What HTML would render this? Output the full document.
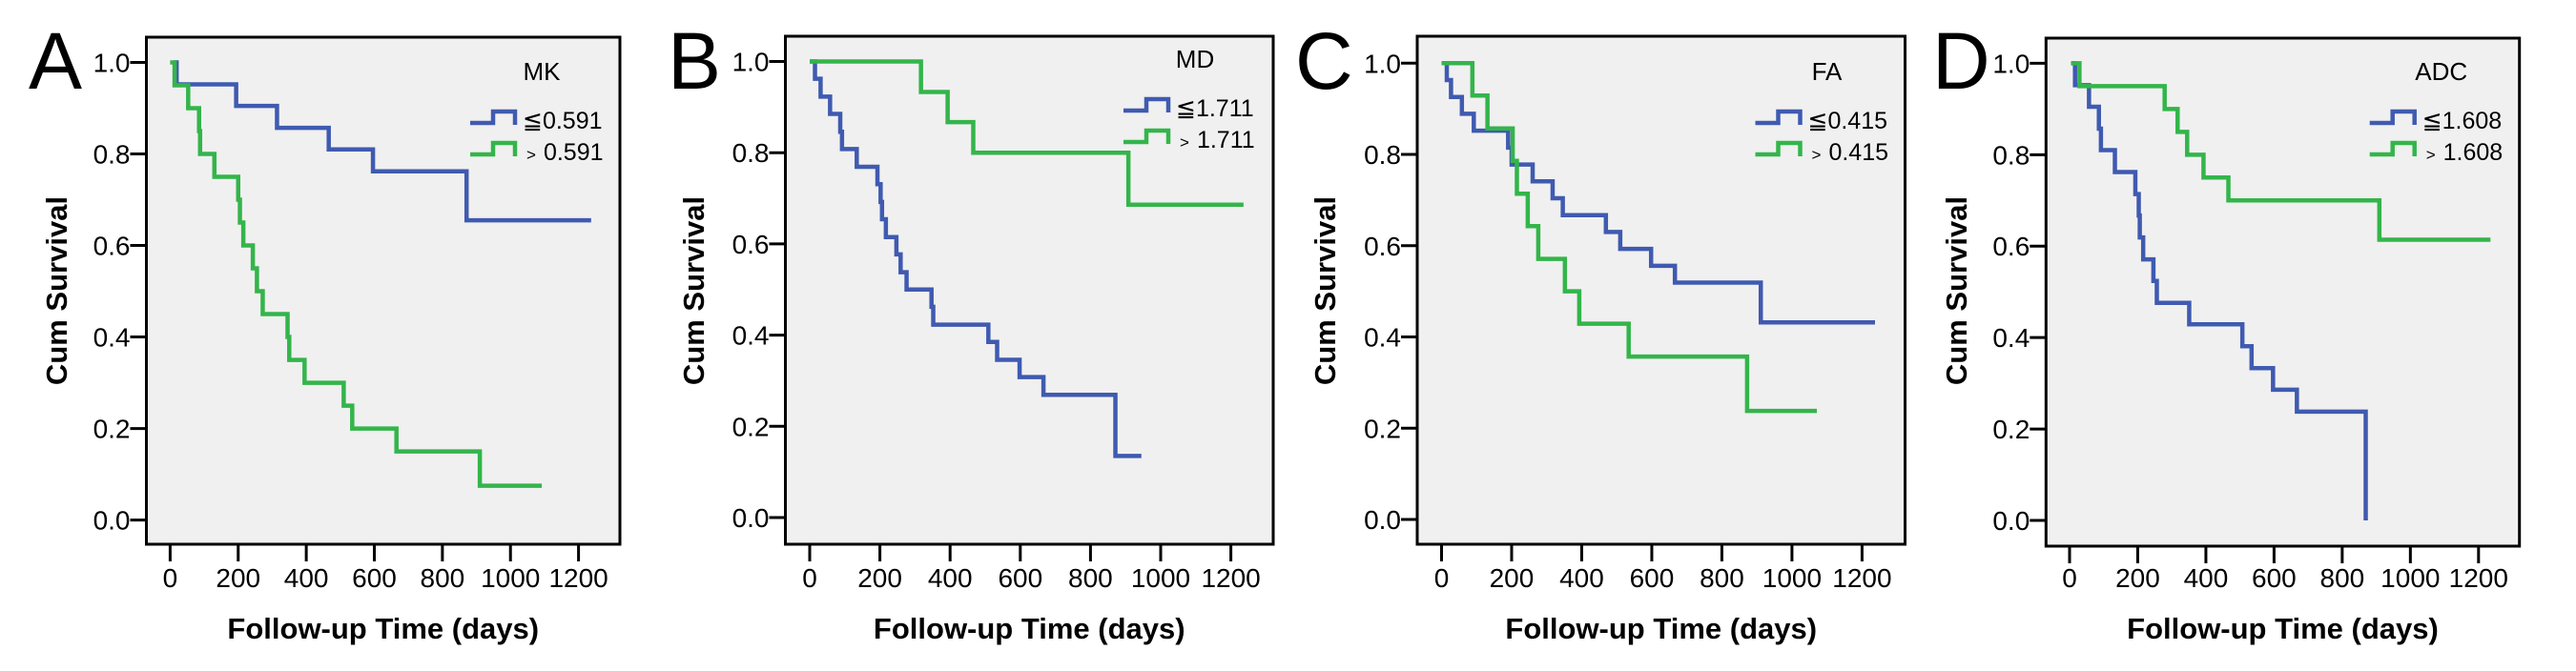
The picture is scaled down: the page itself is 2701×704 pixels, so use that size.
<!DOCTYPE html>
<html><head><meta charset="utf-8"><style>
html,body{margin:0;padding:0;background:#fff}
svg{display:block}
text{font-family:"Liberation Sans","DejaVu Sans",sans-serif;fill:#000}
</style></head><body>
<svg id="fig" width="2701" height="704" viewBox="0 0 2701 704" xmlns="http://www.w3.org/2000/svg"></svg>
<script>
// ---- data (time in days, cumulative survival) ----
const xTicks = [0,200,400,600,800,1000,1200];
const yTicks = [0.0,0.2,0.4,0.6,0.8,1.0];
const yTickLabels = ["0.0","0.2","0.4","0.6","0.8","1.0"];

const mkLowT = [10,19,194,314,466,596,871];
const mkLowS = [1,0.952,0.905,0.857,0.810,0.762,0.655];
const mkLowEnd = 1237;
const mkHighT = [0,13,53,85,88,130,200,205,215,243,255,272,345,350,395,510,535,665,910];
const mkHighS = [1,0.95,0.90,0.85,0.80,0.75,0.70,0.65,0.60,0.55,0.50,0.45,0.40,0.35,0.30,0.25,0.20,0.15,0.075];
const mkHighEnd = 1092;

const mdLowT = [0,15,31,58,87,92,134,193,202,206,217,247,259,276,347,352,509,534,598,666,871];
const mdLowS = [1,0.962,0.923,0.885,0.846,0.808,0.769,0.731,0.692,0.654,0.615,0.577,0.538,0.50,0.462,0.423,0.385,0.346,0.308,0.269,0.135];
const mdLowEnd = 945;
const mdHighT = [0,317,393,466,908];
const mdHighS = [1,0.933,0.867,0.80,0.686];
const mdHighEnd = 1236;

const faLowT = [0,15,27,58,92,190,200,260,317,346,469,510,598,666,911];
const faLowS = [1,0.963,0.926,0.889,0.852,0.815,0.778,0.741,0.704,0.667,0.630,0.593,0.556,0.519,0.432];
const faLowEnd = 1237;
const faHighT = [0,88,131,203,215,246,276,352,393,534,872];
const faHighS = [1,0.929,0.857,0.786,0.714,0.643,0.571,0.50,0.429,0.357,0.238];
const faHighEnd = 1071;

const adcLowT = [6,16,57,86,92,133,193,203,206,216,246,256,351,507,534,597,667,869];
const adcLowS = [1,0.952,0.905,0.857,0.810,0.762,0.714,0.667,0.619,0.571,0.524,0.476,0.429,0.381,0.333,0.286,0.238,0];
const adcLowEnd = 869;
const adcHighT = [4,29,279,317,345,393,466,909];
const adcHighS = [1,0.95,0.90,0.85,0.80,0.75,0.70,0.614];
const adcHighEnd = 1235;

const panelLetters = ["A","B","C","D"];
const panelTitles = ["MK","MD","FA","ADC"];
const cutLabels = ["0.591","1.711","0.415","1.608"];

const BLUE = "#3f5ab0", GREEN = "#33b54a";
const NS = "http://www.w3.org/2000/svg";
const svg = document.getElementById("fig");

// layout per panel
const layouts = [
  {L:153.5,T:39,R:650,B:571,x0:178.4,x1:606.6,y1:65.5,y0:545.6,letterX:30,yTitleX:59,legDy:0},
  {L:823.5,T:38,R:1335,B:571,x0:849,x1:1290.6,y1:64.5,y0:543,letterX:700,yTitleX:727,legDy:-13},
  {L:1486,T:38,R:1997.5,B:571,x0:1511.5,x1:1952.4,y1:66.3,y0:545,letterX:1358,yTitleX:1389,legDy:0},
  {L:2145.3,T:40,R:2641.7,B:573,x0:2170,x1:2598.8,y1:66.4,y0:546,letterX:2026,yTitleX:2051,legDy:0}
];
const series = [
  [[mkLowT,mkLowS,mkLowEnd],[mkHighT,mkHighS,mkHighEnd]],
  [[mdLowT,mdLowS,mdLowEnd],[mdHighT,mdHighS,mdHighEnd]],
  [[faLowT,faLowS,faLowEnd],[faHighT,faHighS,faHighEnd]],
  [[adcLowT,adcLowS,adcLowEnd],[adcHighT,adcHighS,adcHighEnd]]
];

function mk(tag, attrs, parent){
  const e = document.createElementNS(NS, tag);
  for (const k in attrs) e.setAttribute(k, attrs[k]);
  (parent||svg).appendChild(e);
  return e;
}

layouts.forEach((lay, p) => {
  const g = mk("g", {});
  
  
  const xs = t => lay.x0 + (t/1200)*(lay.x1-lay.x0);
  const ys = s => lay.y0 + s*(lay.y1-lay.y0);

  const bg = mk("rect", {x:lay.L, y:lay.T, width:lay.R-lay.L, height:lay.B-lay.T, fill:"#f0f0f0", stroke:"#000", "stroke-width":3}, g);
  
  

  // y ticks
  yTicks.forEach((v,i) => {
    const y = ys(v);
    const tk = mk("line", {x1:lay.L-17, x2:lay.L, y1:y, y2:y, stroke:"#000", "stroke-width":3}, g);
    
    
    const lb = mk("text", {x:lay.L-17, y:y+10, "font-size":28, "text-anchor":"end"}, g);
    lb.textContent = yTickLabels[i];
    
    
  });
  // x ticks
  xTicks.forEach(v => {
    const x = xs(v);
    const tk = mk("line", {x1:x, x2:x, y1:lay.B, y2:lay.B+18, stroke:"#000", "stroke-width":3}, g);
    
    
    const lb = mk("text", {x:x, y:616, "font-size":28, "text-anchor":"middle"}, g);
    lb.textContent = String(v);
    
    
  });
  // axis titles
  const xt = mk("text", {x:(lay.L+lay.R)/2, y:670, "font-size":31, "font-weight":"bold", "text-anchor":"middle"}, g);
  xt.textContent = "Follow-up Time (days)";
  
  
  const yt = mk("text", {x:0, y:0, "font-size":31, "font-weight":"bold", "text-anchor":"middle", transform:`translate(${lay.yTitleX+11},305) rotate(-90)`}, g);
  yt.textContent = "Cum Survival";
  
  
  // panel letter
  const pl = mk("text", {x:lay.letterX, y:93, "font-size":84}, g);
  pl.textContent = panelLetters[p];
  
  

  // curves
  series[p].forEach((sr, k) => {
    const [T,S,end] = sr;
    let d = `M${xs(T[0])},${ys(S[0])}`;
    for (let i=1;i<T.length;i++) d += ` H${xs(T[i])} V${ys(S[i])}`;
    d += ` H${xs(end)}`;
    const path = mk("path", {d:d, fill:"none", stroke:k===0?BLUE:GREEN, "stroke-width":4.5}, g);
    
    
  });

  // legend
  const dy = lay.legDy;
  const tt = mk("text", {x:lay.R-82, y:84+dy, "font-size":26, "text-anchor":"middle"}, g);
  tt.textContent = panelTitles[p];
  
  
  [[BLUE,129,"≦"],[GREEN,162,">"]].forEach((L,k) => {
    const y = L[1]+dy, x1 = lay.R-157, x2 = lay.R-110, xm = x1+24;
    const sw = mk("path", {d:`M${x1},${y} H${xm} V${y-12} H${x2} V${y+2}`, fill:"none", stroke:L[0], "stroke-width":4.5}, g);
    
    
    const tx = mk("text", {x:lay.R-102, y:y+6, "font-size":25}, g);
    if (k===0) { tx.textContent = "≦" + cutLabels[p]; }
    else {
      const a = mk("tspan", {"font-size":17, dx:4}, tx); a.textContent = ">";
      const b = mk("tspan", {dx:8}, tx); b.textContent = cutLabels[p];
    }
    
    
  });
});
</script>
</body></html>
